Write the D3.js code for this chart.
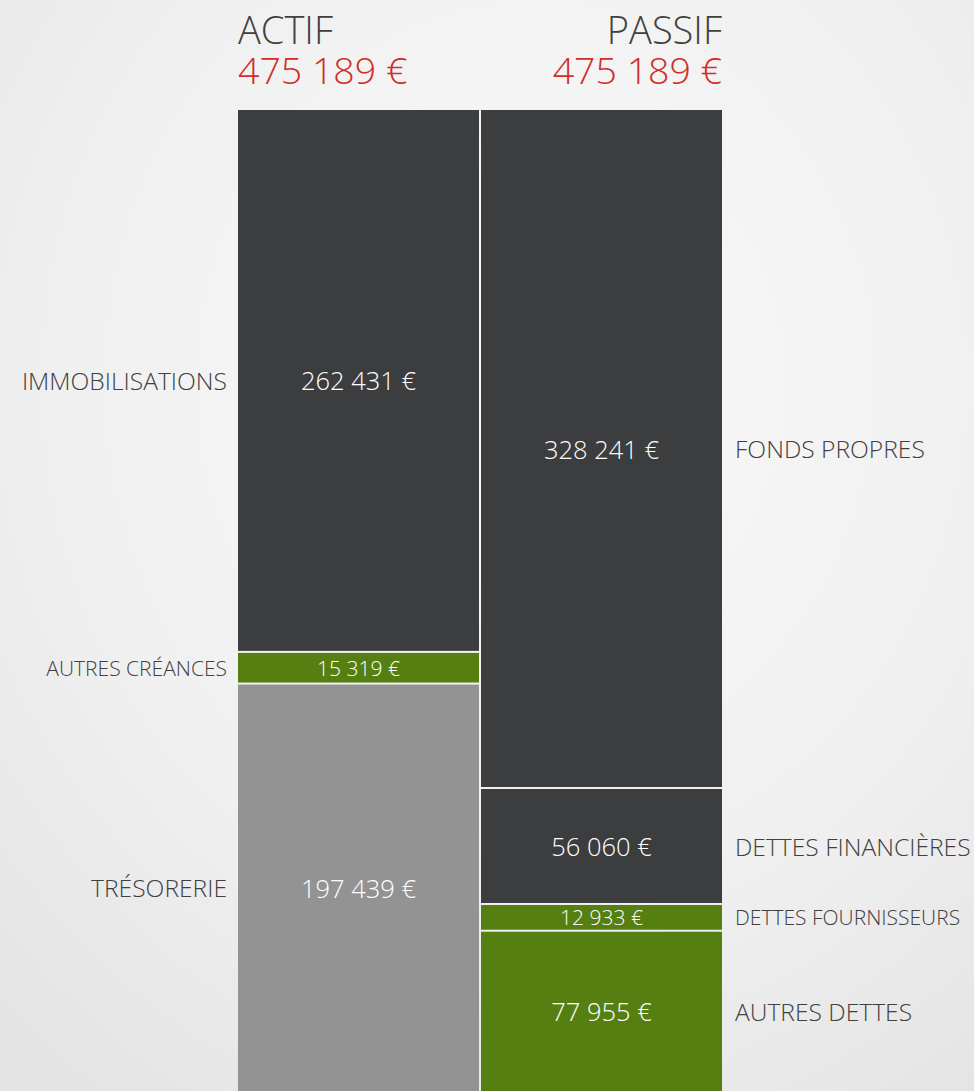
<!DOCTYPE html>
<html><head><meta charset="utf-8">
<script src="https://cdn.jsdelivr.net/npm/d3@7"></script>
<style>
html,body{margin:0;padding:0;width:974px;height:1091px;overflow:hidden;}
body{background:#f2f2f2;}
text{font-family:"Open Sans",sans-serif;font-weight:300;}
</style></head><body>
<svg id="c" width="974" height="1091"></svg>
<script>
const columns = ["ACTIF", "PASSIF"];
const totals = [475189, 475189];
const actifCategories = ["IMMOBILISATIONS", "AUTRES CRÉANCES", "TRÉSORERIE"];
const actifValues = [262431, 15319, 197439];
const passifCategories = ["FONDS PROPRES", "DETTES FINANCIÈRES", "DETTES FOURNISSEURS", "AUTRES DETTES"];
const passifValues = [328241, 56060, 12933, 77955];
const actifColors = ["#3c3d3f", "#567f12", "#939393"];
const passifColors = ["#3c3d3f", "#3c3d3f", "#567f12", "#567f12"];

const svg = d3.select("#c");
const defs = svg.append("defs");
const g1 = defs.append("radialGradient").attr("id","bg").attr("cx","0.55").attr("cy","0.35").attr("r","0.8");
g1.append("stop").attr("offset","0").attr("stop-color","#f9f9f9");
g1.append("stop").attr("offset","0.6").attr("stop-color","#f0f0f0");
g1.append("stop").attr("offset","1").attr("stop-color","#e4e4e4");
svg.append("rect").attr("width",974).attr("height",1091).attr("fill","url(#bg)");

const fmt = v => d3.format(",")(v).replace(/,/g, " ") + " €";

const x = d3.scaleBand().domain(columns).range([237, 723]).paddingInner(0);
const y = d3.scaleLinear().domain([0, 475189]).range([109, 1092]);

function stack(vals){ let s=0; return vals.map(v=>{const o={y0:s,y1:s+v,v}; s+=v; return o;}); }
const cols = [
  {name:"ACTIF", cats:actifCategories, segs:stack(actifValues), colors:actifColors, side:"left"},
  {name:"PASSIF", cats:passifCategories, segs:stack(passifValues), colors:passifColors, side:"right"}
];

cols.forEach((c,ci)=>{
  const x0 = x(c.name), w = x.bandwidth();
  const g = svg.append("g");
  g.selectAll("rect").data(c.segs).join("rect")
    .attr("x", x0+1).attr("width", w-2)
    .attr("y", d=>y(d.y0)+1).attr("height", d=>Math.max(0,y(d.y1)-y(d.y0)-2))
    .attr("fill",(d,i)=>c.colors[i]);
  g.selectAll("text.val").data(c.segs).join("text").attr("class","val")
    .attr("x", x0+w/2).attr("y", d=>(y(d.y0)+y(d.y1))/2)
    .attr("text-anchor","middle").attr("dominant-baseline","central")
    .attr("fill","#ffffff")
    .attr("font-size", d=> (y(d.y1)-y(d.y0))<40 ? 21 : 25.5)
    .text(d=>fmt(d.v));
  g.selectAll("text.lab").data(c.segs).join("text").attr("class","lab")
    .attr("x", c.side==="left" ? x0-10 : x0+w+12)
    .attr("y", d=>(y(d.y0)+y(d.y1))/2)
    .attr("text-anchor", c.side==="left" ? "end" : "start")
    .attr("dominant-baseline","central")
    .attr("fill","#404040")
    .attr("font-size", d=> (y(d.y1)-y(d.y0))<40 ? 21 : 24.6)
    .text((d,i)=>c.cats[i]);
  const tx = c.side==="left" ? x0+1 : x0+w-1;
  const anchor = c.side==="left" ? "start" : "end";
  svg.append("text").attr("x",tx).attr("y",44).attr("text-anchor",anchor)
    .attr("font-size",38).attr("fill","#404040").text(c.name);
  svg.append("text").attr("x",tx).attr("y",84).attr("text-anchor",anchor)
    .attr("font-size",37.5).attr("fill","#d22d27").text(fmt(totals[ci]));
});
</script>
</body></html>
